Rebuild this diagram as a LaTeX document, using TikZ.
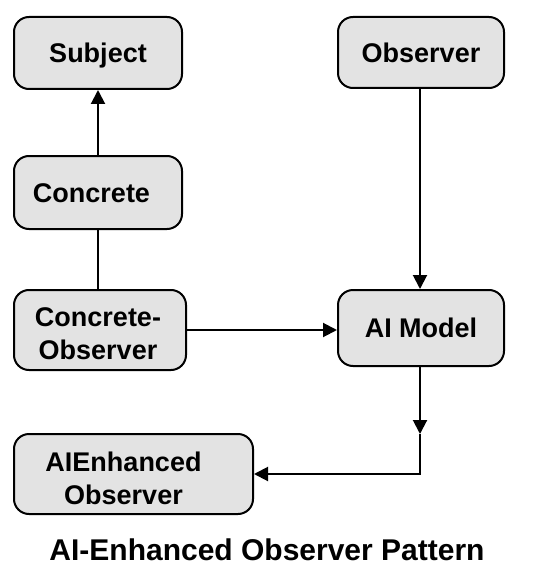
\documentclass[tikz,border=0pt]{standalone}
\usepackage{fontspec}
\setmainfont{Liberation Sans}
\usetikzlibrary{arrows.meta}
\definecolor{boxfill}{HTML}{E3E3E3}
\tikzset{
  box/.style={draw=black, line width=2pt, fill=boxfill, rounded corners=15pt,
    font=\fontsize{27}{33}\selectfont\bfseries, inner sep=0pt, align=center},
  one/.style={text height=19.5pt, text depth=0pt},
  conn/.style={line width=2pt},
  arr/.style={conn, -{Triangle[width=14pt,length=14pt]}},
}
\begin{document}
\begin{tikzpicture}[x=1pt,y=-1pt]
\useasboundingbox (0,0) rectangle (554,583);
\node[box, one, minimum width=168pt, minimum height=72pt] (subj) at (98,53) {Subject};
\node[box, one, minimum width=166pt, minimum height=71pt] (obs) at (421,52.5) {Observer};
\node[box, one, minimum width=168pt, minimum height=73pt] (conc) at (98,192.5) {\hspace*{-13pt}Concrete};
\node[box, minimum width=172pt, minimum height=80pt] (cobs) at (100,330) {\rule{0pt}{26pt}\hspace*{-4pt}Concrete-\\\hspace*{-4pt}Observer};
\node[box, one, minimum width=166pt, minimum height=76pt] (aim) at (421,328) {AI Model};
\node[box, minimum width=239pt, minimum height=80pt] (aie) at (133.5,474) {\rule{0pt}{28pt}\hspace*{-20pt}AIEnhanced\\\hspace*{-20pt}Observer};
\node[font=\fontsize{30}{36}\selectfont\bfseries] (title) at (267,550) {AI-Enhanced Observer Pattern};
\coordinate (mid) at (420,434);
\draw[arr] (conc.north) -- (subj.south);
\draw[conn] (cobs.north -| conc.south) -- (conc.south);
\draw[arr] (obs.south -| mid) -- (aim.north -| mid);
\draw[arr] (cobs.east) -- (cobs.east -| aim.west);
\draw[arr] (aim.south -| mid) -- (mid);
\draw[arr] (mid) -- (mid |- aie.east) -- (aie.east);
\end{tikzpicture}
\end{document}
